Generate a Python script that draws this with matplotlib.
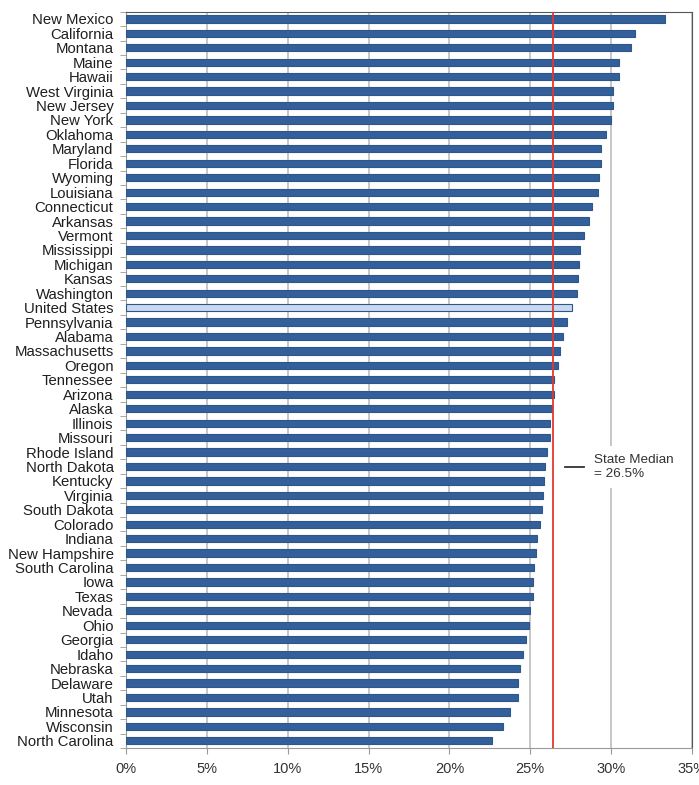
import numpy as np
import matplotlib
matplotlib.use("Agg")
import matplotlib.pyplot as plt
from matplotlib.lines import Line2D

plt.rcParams['font.family'] = ['Liberation Sans', 'DejaVu Sans']

# data (percent)
states = ['New Mexico', 'California', 'Montana', 'Maine', 'Hawaii', 'West Virginia',
          'New Jersey', 'New York', 'Oklahoma', 'Maryland', 'Florida', 'Wyoming',
          'Louisiana', 'Connecticut', 'Arkansas', 'Vermont', 'Mississippi', 'Michigan',
          'Kansas', 'Washington', 'United States', 'Pennsylvania', 'Alabama',
          'Massachusetts', 'Oregon', 'Tennessee', 'Arizona', 'Alaska', 'Illinois',
          'Missouri', 'Rhode Island', 'North Dakota', 'Kentucky', 'Virginia',
          'South Dakota', 'Colorado', 'Indiana', 'New Hampshire', 'South Carolina',
          'Iowa', 'Texas', 'Nevada', 'Ohio', 'Georgia', 'Idaho', 'Nebraska',
          'Delaware', 'Utah', 'Minnesota', 'Wisconsin', 'North Carolina']
values = [33.3, 31.5, 31.2, 30.5, 30.5, 30.1,
          30.1, 30.0, 29.7, 29.4, 29.4, 29.25,
          29.2, 28.8, 28.6, 28.3, 28.05, 28.0,
          27.95, 27.9, 27.6, 27.3, 27.0,
          26.85, 26.7, 26.45, 26.46, 26.36, 26.2,
          26.2, 26.03, 25.9, 25.87, 25.8,
          25.7, 25.6, 25.4, 25.33, 25.25,
          25.16, 25.16, 24.97, 24.9, 24.75, 24.57, 24.36,
          24.23, 24.23, 23.74, 23.33, 22.66]
median_drawn = 26.4
median_label = 'State Median\n= 26.5%'
xticks = [0, 5, 10, 15, 20, 25, 30, 35]

fig = plt.figure(figsize=(6.99, 7.85), dpi=100)
ax = fig.add_axes([126 / 699, 1 - 748 / 785, (692 - 126) / 699, (748 - 11.7) / 785])

y = np.arange(len(states))
colors = ['#C9D8EC' if s == 'United States' else '#33609A' for s in states]
ax.barh(y, values, height=0.5, color=colors, edgecolor='#2D5689', linewidth=0.8, zorder=3)

ax.axvline(median_drawn, color='#E0392E', lw=1.3, zorder=4)

ax.set_xlim(0, 35)
ax.set_ylim(len(states) - 0.5, -0.5)
ax.set_xticks(xticks)
ax.set_xticklabels([f'{t}%' for t in xticks], fontsize=10.5, color='#333333')
ax.xaxis.grid(True, color='#BDBDBD', lw=1.2, zorder=0)

ax.set_yticks(y)
ax.set_yticklabels(states, fontsize=10.7, color='#1f1f1f')
ax.set_yticks(np.arange(len(states) + 1) - 0.5, minor=True)
ax.tick_params(axis='y', which='major', length=0, pad=9)
ax.tick_params(axis='y', which='minor', length=4, color='#999999', direction='out')
ax.tick_params(axis='x', length=4, color='#999999', pad=6)

for side in ['left', 'bottom']:
    ax.spines[side].set_color('#999999')
for side in ['top', 'right']:
    ax.spines[side].set_color('#555555')

leg = ax.legend(handles=[Line2D([], [], color='#333333', lw=1.3)], labels=[median_label],
                loc='center left', bbox_to_anchor=(0.749, 0.3816), frameon=True,
                framealpha=1, edgecolor='none', facecolor='white', fontsize=9.7,
                handlelength=1.4, handletextpad=0.8, borderpad=0.6)
leg.set_zorder(5)
for t in leg.get_texts():
    t.set_color('#333333')

fig.savefig('out.png', dpi=100)
